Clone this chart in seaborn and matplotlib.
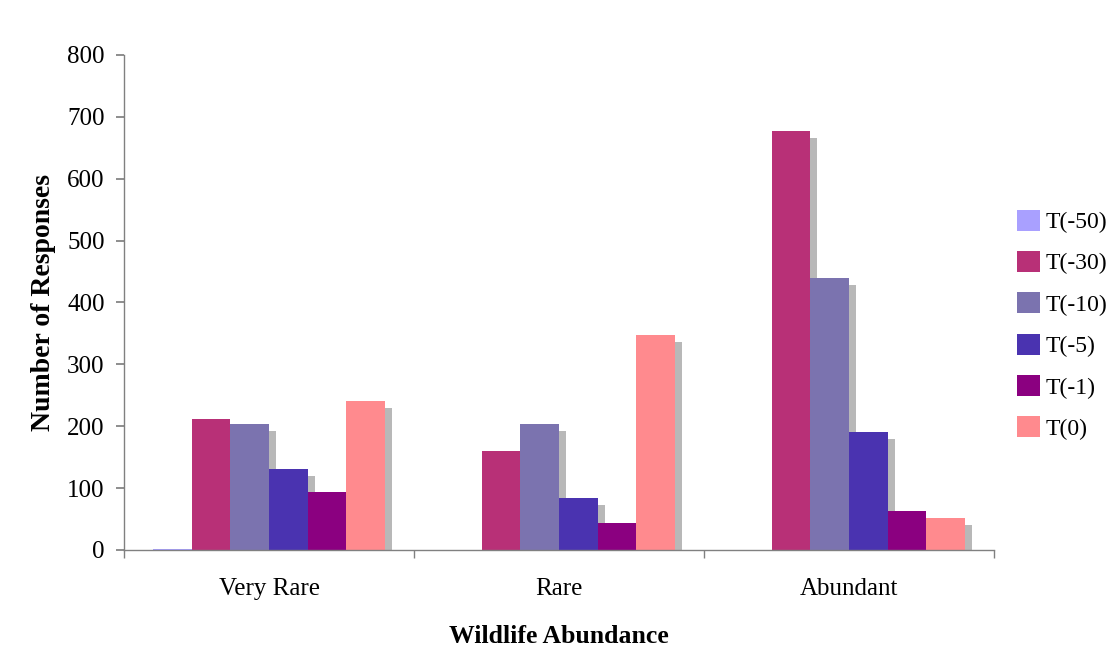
import matplotlib
matplotlib.use("Agg")
import matplotlib.pyplot as plt
import matplotlib.patheffects as pe
from matplotlib.patches import Patch
import seaborn as sns
import pandas as pd
import numpy as np

categories = ["Very Rare", "Rare", "Abundant"]
series = ["T(-50)", "T(-30)", "T(-10)", "T(-5)", "T(-1)", "T(0)"]
t_m50 = [1, 0, 0]
t_m30 = [212, 160, 677]
t_m10 = [204, 204, 439]
t_m5 = [131, 84, 190]
t_m1 = [94, 44, 63]
t_0 = [241, 347, 52]
colors = ["#A9A0FF", "#B83077", "#7B73AF", "#4A33B0", "#8B0080", "#FF8A8E"]
yticks = [0, 100, 200, 300, 400, 500, 600, 700, 800]

vals = [t_m50, t_m30, t_m10, t_m5, t_m1, t_0]
rows = []
for s, v in zip(series, vals):
    for c, x in zip(categories, v):
        rows.append({"Category": c, "Series": s, "Value": x})
df = pd.DataFrame(rows)

sns.set_theme(style="white")
plt.rcParams["font.family"] = ["Liberation Serif", "DejaVu Serif"]
plt.rcParams["text.color"] = "black"
plt.rcParams["axes.labelcolor"] = "black"
plt.rcParams["xtick.color"] = "black"
plt.rcParams["ytick.color"] = "black"

fig = plt.figure(figsize=(11.17, 6.47), dpi=100)
ax = fig.add_axes([0.111, 0.150, 0.779, 0.765])

sns.barplot(data=df, x="Category", y="Value", hue="Series", order=categories,
            hue_order=series, palette=colors, width=0.8, saturation=1,
            ax=ax, linewidth=0, errorbar=None, legend=False)

for p in ax.patches:
    p.set_path_effects([pe.SimplePatchShadow(offset=(5, -5), shadow_rgbFace="#b8b8b8", alpha=1.0), pe.Normal()])

ax.set_ylim(0, 800)
ax.set_xlim(-0.5, 2.5)
ax.set_yticks(yticks)
ax.set_yticklabels([str(t) for t in yticks], fontsize=18)
ax.set_xticks(range(len(categories)))
ax.set_xticklabels(categories, fontsize=18)
ax.set_xticks([-0.5, 0.5, 1.5, 2.5], minor=True)
ax.tick_params(axis="x", which="major", length=0, pad=20)
ax.tick_params(axis="x", which="minor", length=6, color="#808080", direction="out", bottom=True)
ax.tick_params(axis="y", length=6, color="#808080", direction="out", left=True, pad=8)

for side in ["top", "right"]:
    ax.spines[side].set_visible(False)
for side in ["left", "bottom"]:
    ax.spines[side].set_color("#808080")
    ax.spines[side].set_linewidth(1.0)

ax.set_xlabel("Wildlife Abundance", fontsize=18.5, fontweight="bold", labelpad=18)
ax.set_ylabel("Number of Responses", fontsize=20, fontweight="bold", labelpad=8)

handles = [Patch(facecolor=c, edgecolor="none") for c in colors]
leg = ax.legend(handles, series, loc="center left", bbox_to_anchor=(1.026, 0.455), frameon=False,
                fontsize=17, handlelength=1.0, handleheight=1.0, handletextpad=0.2,
                labelspacing=0.75, borderpad=0, borderaxespad=0)

fig.savefig("out.png", dpi=100)
